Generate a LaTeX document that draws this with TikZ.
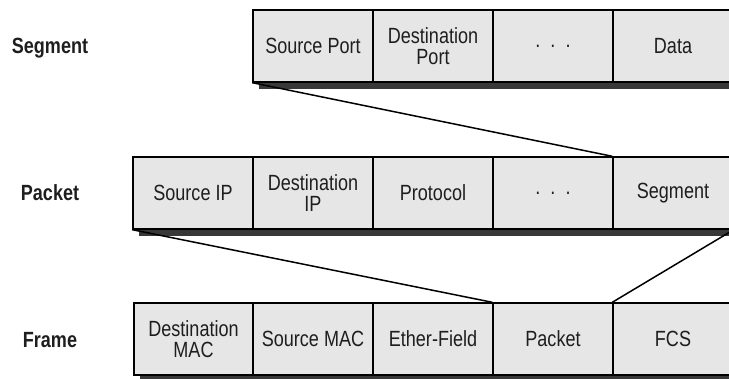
\documentclass[tikz,border=0pt]{standalone}
\usepackage{fontspec}
\setmainfont[FakeStretch=0.82]{Liberation Sans}
\usetikzlibrary{shadows}
\definecolor{cellfill}{HTML}{E6E6E6}
\definecolor{shadowc}{HTML}{383838}
\definecolor{txt}{HTML}{1E1E1E}
\tikzset{
  cell/.style={draw=black, line width=1.4pt, fill=cellfill, minimum width=120pt,
    minimum height=72pt, inner sep=0pt, align=center, text=txt,
    font=\fontsize{22}{20.5}\selectfont,
    drop shadow={shadow xshift=6pt, shadow yshift=-7pt, fill=shadowc, opacity=1}},
  rowlabel/.style={font=\fontsize{22}{22}\selectfont\bfseries, text=txt, inner sep=0pt},
  link/.style={draw=black, line width=1.5pt}
}
\begin{document}
\begin{tikzpicture}[x=1pt, y=-1pt]
\useasboundingbox (0,0) rectangle (729,379);
\clip (0,0) rectangle (729,379);
% Segment row
\node[cell] (s1) at (313,46) {Source Port};
\node[cell] (s2) at (433,46) {Destination\\Port};
\node[cell] (s3) at (553,46) {.\ \ .\ \ .};
\node[cell] (s4) at (673,46) {Data};
% Packet row
\node[cell] (p1) at (193,193) {Source IP};
\node[cell] (p2) at (313,193) {Destination\\IP};
\node[cell] (p3) at (433,193) {Protocol};
\node[cell] (p4) at (553,193) {.\ \ .\ \ .};
\node[cell] (p5) at (673,193) {Segment};
% Frame row
\node[cell, minimum width=119pt] (f1) at (193.5,339) {Destination\\MAC};
\node[cell] (f2) at (313,339) {Source MAC};
\node[cell] (f3) at (433,339) {Ether-Field};
\node[cell] (f4) at (553,339) {Packet};
\node[cell] (f5) at (673,339) {FCS};
% labels
\node[rowlabel] (ls) at (50,48) {Segment};
\node[rowlabel] (lp) at (50,193) {Packet};
\node[rowlabel] (lf) at (50,340) {Frame};
% connectors
\draw[link] (s1.south west) -- (p5.north west);
\draw[link] (p1.south west) -- (f4.north west);
\draw[link] (p5.south east) -- (f5.north west);
\end{tikzpicture}
\end{document}
